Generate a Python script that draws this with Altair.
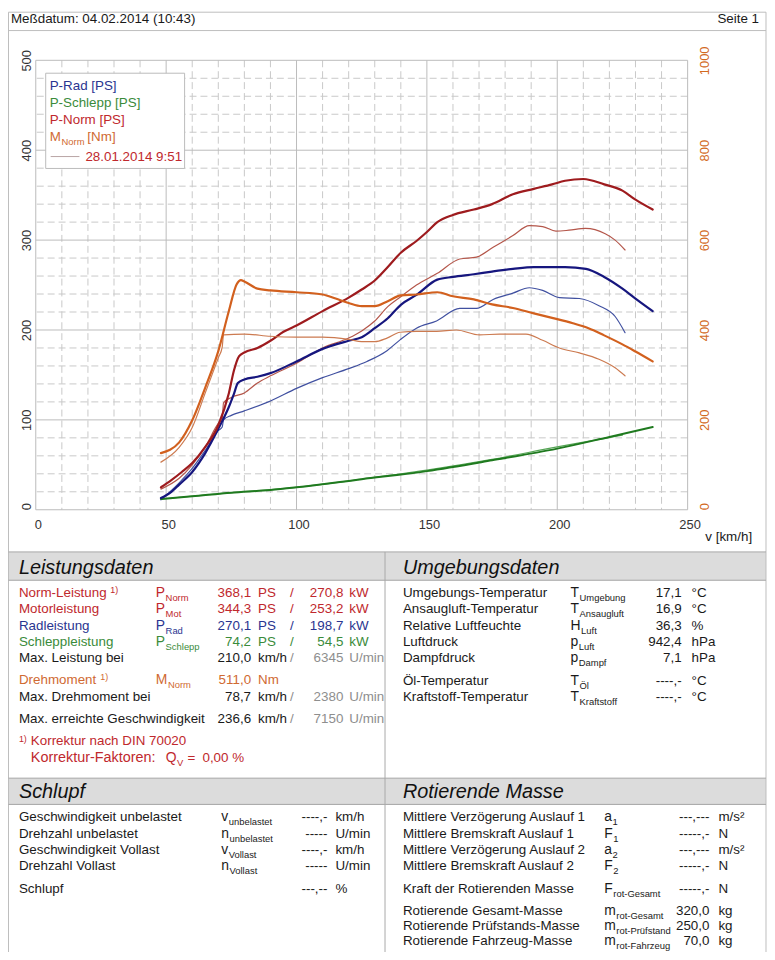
import altair as alt
import pandas as pd

FONT = "Liberation Sans, Arial, Helvetica, sans-serif"

# ---------------- curve data ----------------
# current run (thick lines)
v_pnorm = [48, 52, 56, 60, 65, 70, 74, 76, 78, 80, 85, 90, 95, 100, 110, 120, 125, 130, 135, 140,
           146, 150, 154, 160, 168, 175, 183, 191, 198, 203, 210, 218, 225, 230, 236.6]
p_pnorm = [25, 33, 42, 52, 70, 94, 129, 155, 171, 175, 180, 188, 198, 205, 221, 236, 245, 255, 270, 286,
           299, 309, 320, 328, 334, 340, 351, 357, 362, 366, 368, 362, 355, 345, 334]

v_prad = [48, 52, 55, 60, 65, 70, 74, 76, 77.5, 80, 85, 90, 100, 110, 120, 125, 130, 135, 140, 146,
          154, 160, 168, 175, 183, 191, 198, 203, 211, 218, 225, 230, 236.6]
p_prad = [13, 20, 28, 42, 63, 90, 114, 129, 141, 145, 148, 152, 165, 179, 188, 192, 202, 213, 228, 239,
          256, 259, 262, 265, 268, 270, 270, 270, 268, 259, 246, 235, 221]

v_schlepp = [48, 60, 75, 90, 100, 125, 150, 175, 200, 220, 236.6]
p_schlepp = [12, 15, 19, 22, 25, 34, 43, 55, 68, 81, 92]

v_mnorm = [48, 55, 60, 65, 70, 74, 77, 78.7, 80, 85, 90, 100, 110, 115, 120, 125, 130, 135, 140, 146,
           154, 160, 168, 175, 183, 191, 198, 206, 212, 218, 225, 230, 236.6]
m_mnorm = [126, 150, 199, 272, 353, 441, 501, 511, 508, 492, 488, 484, 479, 470, 460, 453, 453, 464, 477, 479,
           484, 475, 468, 457, 449, 437, 427, 415, 404, 388, 368, 352, 330]

# reference run 28.01.2014 9:51 (thin lines)
v_pnorm_ref = [48, 55, 60, 65, 70, 71.5, 72, 75, 80, 85, 90, 100, 110, 120, 125, 130, 135, 140, 146, 154,
               162.6, 169, 175.4, 183, 189.3, 194.4, 199.5, 204.5, 210.8, 218.4, 222.2, 226]
p_pnorm_ref = [23, 35, 50, 70, 96, 101, 119, 125, 130, 141, 149, 163, 180, 191, 199, 210, 226, 237, 250, 263,
               279, 281, 292, 305, 316, 315, 310, 311, 313, 307, 300, 289]

v_prad_ref = [48, 55, 60, 65, 70, 71.5, 72, 75, 80, 90, 100, 110, 120, 127, 134.7, 139.7, 146, 153.7, 162.6, 169,
              175.4, 183, 189.3, 194.4, 200.8, 208.5, 216, 222.2, 226]
p_prad_ref = [11, 30, 46, 66, 88, 92, 100, 105, 110, 121, 135, 147, 157, 165, 177, 189, 202, 210, 224, 224,
              234, 241, 247, 244, 236, 235, 227, 215, 197]

v_mnorm_ref = [48, 55, 60, 65, 70, 71.5, 72, 80, 90, 100, 110, 120, 125, 130, 134.7, 139.7, 146, 153.7, 161.3, 170.2,
               177.8, 188, 194.4, 200.8, 208.5, 216, 222.2, 226]
m_mnorm_ref = [106, 139, 183, 260, 338, 362, 389, 391, 386, 384, 384, 379, 374, 374, 382, 395, 397, 397, 400, 389,
               391, 391, 377, 360, 349, 335, 316, 298]

v_schlepp_ref = [48, 75, 100, 125, 150, 175, 200, 225]
p_schlepp_ref = [12, 19, 25, 34, 44, 56, 70, 83]

# axis ticks / grid
x_major = [0, 50, 100, 150, 200, 250]
x_minor = [10, 20, 30, 40, 60, 70, 80, 90, 110, 120, 130, 140, 160, 170, 180, 190, 210, 220, 230, 240]
y_major = [0, 100, 200, 300, 400, 500]
y_minor = [20, 40, 60, 80, 120, 140, 160, 180, 220, 240, 260, 280, 320, 340, 360, 380, 420, 440, 460, 480]
m_ticks = [0, 200, 400, 600, 800, 1000]
x_title = "v [km/h]"

# ---------------- text contents ----------------
header_left = "Meßdatum: 04.02.2014 (10:43)"
header_right = "Seite 1"
section_titles = ["Leistungsdaten", "Umgebungsdaten", "Schlupf", "Rotierende Masse"]

legend_items = ["P-Rad [PS]", "P-Schlepp [PS]", "P-Norm [PS]"]
legend_tones = ["blue", "green", "red"]
legend_torque = ("M", "Norm", "[Nm]")
legend_ref = "28.01.2014 9:51"

# label, note, symbol, subscript, value1, unit1, value2, unit2, tone
leistung_rows = [
    ("Norm-Leistung", "1)", "P", "Norm", "368,1", "PS", "270,8", "kW", "red"),
    ("Motorleistung", "", "P", "Mot", "344,3", "PS", "253,2", "kW", "red"),
    ("Radleistung", "", "P", "Rad", "270,1", "PS", "198,7", "kW", "blue"),
    ("Schleppleistung", "", "P", "Schlepp", "74,2", "PS", "54,5", "kW", "green"),
    ("Max. Leistung bei", "", "", "", "210,0", "km/h", "6345", "U/min", "black"),
    ("Drehmoment", "1)", "M", "Norm", "511,0", "Nm", "", "", "orange"),
    ("Max. Drehmoment bei", "", "", "", "78,7", "km/h", "2380", "U/min", "black"),
    ("Max. erreichte Geschwindigkeit", "", "", "", "236,6", "km/h", "7150", "U/min", "black"),
]
footnote_1 = ("1)", "Korrektur nach DIN 70020")
footnote_2 = ("Korrektur-Faktoren:", "Q", "V", "=", "0,00 %")

umgebung_rows = [
    ("Umgebungs-Temperatur", "T", "Umgebung", "17,1", "°C"),
    ("Ansaugluft-Temperatur", "T", "Ansaugluft", "16,9", "°C"),
    ("Relative Luftfeuchte", "H", "Luft", "36,3", "%"),
    ("Luftdruck", "p", "Luft", "942,4", "hPa"),
    ("Dampfdruck", "p", "Dampf", "7,1", "hPa"),
    ("Öl-Temperatur", "T", "Öl", "----,-", "°C"),
    ("Kraftstoff-Temperatur", "T", "Kraftstoff", "----,-", "°C"),
]

schlupf_rows = [
    ("Geschwindigkeit unbelastet", "v", "unbelastet", "----,-", "km/h"),
    ("Drehzahl unbelastet", "n", "unbelastet", "-----", "U/min"),
    ("Geschwindigkeit Vollast", "v", "Vollast", "----,-", "km/h"),
    ("Drehzahl Vollast", "n", "Vollast", "-----", "U/min"),
    ("Schlupf", "", "", "---,--", "%"),
]

masse_rows = [
    ("Mittlere Verzögerung Auslauf 1", "a", "1", "---,---", "m/s²"),
    ("Mittlere Bremskraft Auslauf 1", "F", "1", "-----,-", "N"),
    ("Mittlere Verzögerung Auslauf 2", "a", "2", "---,---", "m/s²"),
    ("Mittlere Bremskraft Auslauf 2", "F", "2", "-----,-", "N"),
    ("Kraft der Rotierenden Masse", "F", "rot-Gesamt", "-----,-", "N"),
    ("Rotierende Gesamt-Masse", "m", "rot-Gesamt", "320,0", "kg"),
    ("Rotierende Prüfstands-Masse", "m", "rot-Prüfstand", "250,0", "kg"),
    ("Rotierende Fahrzeug-Masse", "m", "rot-Fahrzeug", "70,0", "kg"),
]

# ---------------- styles ----------------
C = dict(red="#C0282D", blue="#2A3590", green="#3A8B3A", orange="#D06A32",
         black="#1A1A1A", grey="#8E8E8E")
SYM_W = {"P": .667, "M": .833, "T": .611, "H": .722, "p": .556, "v": .5, "n": .556,
         "a": .556, "F": .611, "m": .833, "Q": .778}

# ---------------- layout (page pixel coords) ----------------
X0, Y0 = 36, 57          # plot origin on the page
W, H = 657, 453          # plot size
PAGE_W, PAGE_H = 773, 960

texts = []


def txt(kind, x, y, s, color, size=13.5):
    texts.append(dict(kind=kind, x=x - X0, y=y - Y0, text=s, color=color, fs=size))


def sym_sub(x, y, sym, sub, color):
    txt("l", x, y, sym, color, 14)
    txt("l", x + SYM_W.get(sym, .6) * 14 + 0.5, y + 5, sub, color, 9.5)


rules = []


def rule(x, y, x2, y2, color="#BDBDBD", sw=1.0):
    rules.append(dict(x=x - X0, y=y - Y0, x2=x2 - X0, y2=y2 - Y0, color=color, sw=sw))


rects = []


def rect(x, y, x2, y2, fill, stroke):
    rects.append(dict(x=x - X0, y=y - Y0, x2=x2 - X0, y2=y2 - Y0, fill=fill, stroke=stroke))


# page frame and header
rule(8.5, 8.5, 772, 8.5)
rule(8.5, 8.5, 8.5, 960)
rule(772, 8.5, 772, 960)
rule(8.5, 27, 772, 27)
txt("l", 11, 15, header_left, C["black"])
txt("r", 765, 15, header_right, C["black"])

# section bars
rect(9, 553, 771.5, 581, "#DCDCDC", "#DCDCDC")
rect(9, 781, 771.5, 807, "#DCDCDC", "#DCDCDC")
for yy in (552.5, 581, 780.5, 807):
    rule(8.5, yy, 772, yy, "#A8A8A8")
rule(388, 552.5, 388, 960, "#A8A8A8")
for title, (tx, ty) in zip(section_titles, [(19, 569), (406, 569), (19, 795), (406, 795)]):
    txt("h", tx, ty, title, "#111111", 20)

# Leistungsdaten
ly = [594, 610.5, 627, 643, 659.5, 682, 698.5, 721]
note_x = {0: 111, 5: 101}
for i, (row, y) in enumerate(zip(leistung_rows, ly)):
    label, note, sym, sub, v1, u1, v2, u2, tone = row
    col = C[tone]
    txt("l", 19, y, label, col)
    if note:
        txt("l", note_x[i], y - 3, note, col, 9)
    if sym:
        sym_sub(157, y, sym, sub, col)
    txt("r", 253, y, v1, col)
    txt("l", 260, y, u1, col)
    if v2:
        side = C["grey"] if tone == "black" else col
        txt("c", 294, y, "/", side)
        txt("r", 346, y, v2, side)
        txt("l", 352, y, u2, side)
txt("l", 19, 741, footnote_1[0], C["red"], 9)
txt("l", 31, 743, footnote_1[1], C["red"])
txt("l", 31, 760, footnote_2[0], C["red"], 14.5)
sym_sub(167, 760, footnote_2[1], footnote_2[2], C["red"])
txt("l", 189, 760, footnote_2[3], C["red"])
txt("l", 204, 760, footnote_2[4], C["red"])

# Umgebungsdaten
uy = [594, 610.5, 627, 643, 659.5, 683, 699]
for (label, sym, sub, val, unit), y in zip(umgebung_rows, uy):
    txt("l", 406, y, label, C["black"])
    sym_sub(575, y, sym, sub, C["black"])
    txt("r", 687, y, val, C["black"])
    txt("l", 697, y, unit, C["black"])

# Schlupf
sy = [820, 836.5, 853, 869, 892]
for (label, sym, sub, val, unit), y in zip(schlupf_rows, sy):
    txt("l", 19, y, label, C["black"])
    if sym:
        sym_sub(223, y, sym, sub, C["black"])
    txt("r", 330, y, val, C["black"])
    txt("l", 338, y, unit, C["black"])

# Rotierende Masse
my = [820, 836.5, 853, 869, 892, 914, 930, 945]
for (label, sym, sub, val, unit), y in zip(masse_rows, my):
    txt("l", 406, y, label, C["black"])
    sym_sub(609, y, sym, sub, C["black"])
    txt("r", 715, y, val, C["black"])
    txt("l", 724, y, unit, C["black"])

# legend box inside the plot
rect(46, 70, 186, 166, "white", "#BBBBBB")
for s, tone, y in zip(legend_items, legend_tones, [83, 100, 117]):
    txt("l", 50, y, s, C[tone])
txt("l", 50, 134, legend_torque[0], C["orange"])
txt("l", 62, 139, legend_torque[1], C["orange"], 9.5)
txt("l", 88, 134, legend_torque[2], C["orange"])
rule(51, 154, 80, 154, "#B8A4A4", 1)
txt("l", 86, 154, legend_ref, C["red"])

# x axis title
txt("r", 758, 537, x_title, C["black"])

text_df = pd.DataFrame(texts)
rule_df = pd.DataFrame(rules)
rect_df = pd.DataFrame(rects)

# ---------------- curve tables ----------------
power_series = [
    ("Schlepp ref", v_schlepp_ref, p_schlepp_ref, "#55A555", 1.2),
    ("Rad ref", v_prad_ref, p_prad_ref, "#4050A0", 1.2),
    ("Norm ref", v_pnorm_ref, p_pnorm_ref, "#B4564A", 1.2),
    ("Schlepp", v_schlepp, p_schlepp, "#1F7A1F", 2.0),
    ("Rad", v_prad, p_prad, "#16167E", 2.2),
    ("Norm", v_pnorm, p_pnorm, "#9E1B1E", 2.2),
]
torque_series = [
    ("M ref", v_mnorm_ref, m_mnorm_ref, "#CC7A50", 1.2),
    ("M", v_mnorm, m_mnorm, "#D2601E", 2.2),
]


def series_df(series):
    rows = []
    for name, vs, ps, col, sw in series:
        for v, p in zip(vs, ps):
            rows.append(dict(series=name, v=v, val=p, color=col, sw=sw))
    return pd.DataFrame(rows)


power_df = series_df(power_series)
torque_df = series_df(torque_series)

xs = alt.Scale(domain=[0, 250], nice=False, zero=False)
ys = alt.Scale(domain=[0, 500], nice=False)
ms = alt.Scale(domain=[0, 1000], nice=False)

grid_minor_x = alt.Chart(pd.DataFrame({"g": x_minor})).mark_rule(
    color="#C8C8C8", strokeWidth=1, strokeDash=[7, 4]).encode(x=alt.X("g:Q", scale=xs, axis=None))
grid_minor_y = alt.Chart(pd.DataFrame({"g": y_minor})).mark_rule(
    color="#C8C8C8", strokeWidth=1, strokeDash=[7, 4]).encode(y=alt.Y("g:Q", scale=ys, axis=None))
grid_major_x = alt.Chart(pd.DataFrame({"g": x_major})).mark_rule(
    color="#BBBBBB", strokeWidth=1).encode(x=alt.X("g:Q", scale=xs, axis=None))
grid_major_y = alt.Chart(pd.DataFrame({"g": y_major})).mark_rule(
    color="#BBBBBB", strokeWidth=1).encode(y=alt.Y("g:Q", scale=ys, axis=None))

axis_common = dict(grid=False, domain=False, ticks=False, labelFontSize=13, labelFont=FONT, title=None)
zero_align = alt.condition("datum.value === 0", alt.value("left"), alt.value("center"))

power = alt.Chart(power_df).mark_line(interpolate="monotone", strokeJoin="round", strokeCap="round").encode(
    x=alt.X("v:Q", scale=xs, axis=alt.Axis(values=x_major, labelColor="#333333", labelPadding=9,
                                            labelFlush=False, labelOffset=2, format="d", **axis_common)),
    y=alt.Y("val:Q", scale=ys, axis=alt.Axis(values=y_major, orient="left", labelColor="#333333",
                                              labelAngle=270, labelAlign=zero_align,
                                              labelBaseline="bottom", labelPadding=2, labelFlush=False,
                                              format="d", **axis_common)),
    detail="series:N",
    color=alt.Color("color:N", scale=None),
    strokeWidth=alt.StrokeWidth("sw:Q", scale=None),
    order="v:Q",
)

torque = alt.Chart(torque_df).mark_line(interpolate="monotone", strokeJoin="round", strokeCap="round").encode(
    x=alt.X("v:Q", scale=xs, axis=None),
    y=alt.Y("val:Q", scale=ms, axis=alt.Axis(values=m_ticks, orient="right", labelColor="#D2691E",
                                              labelAngle=270, labelAlign=zero_align,
                                              labelBaseline="top", labelPadding=11, labelFlush=False,
                                              format="d", **axis_common)),
    detail="series:N",
    color=alt.Color("color:N", scale=None),
    strokeWidth=alt.StrokeWidth("sw:Q", scale=None),
    order="v:Q",
)

page_rects = alt.Chart(rect_df).mark_rect(strokeWidth=1).encode(
    x=alt.X("x:Q", scale=None, axis=None), x2="x2:Q",
    y=alt.Y("y:Q", scale=None, axis=None), y2="y2:Q",
    fill=alt.Fill("fill:N", scale=None), stroke=alt.Stroke("stroke:N", scale=None))

page_rules = alt.Chart(rule_df).mark_rule().encode(
    x=alt.X("x:Q", scale=None, axis=None), x2="x2:Q",
    y=alt.Y("y:Q", scale=None, axis=None), y2="y2:Q",
    color=alt.Color("color:N", scale=None), strokeWidth=alt.StrokeWidth("sw:Q", scale=None))


def text_layer(kind, align, style="normal"):
    return alt.Chart(text_df).transform_filter(alt.datum.kind == kind).mark_text(
        align=align, baseline="middle", font=FONT, fontStyle=style).encode(
        x=alt.X("x:Q", scale=None, axis=None),
        y=alt.Y("y:Q", scale=None, axis=None),
        text="text:N",
        color=alt.Color("color:N", scale=None),
        size=alt.Size("fs:Q", scale=None))


# fixed padding so the plot area sits exactly where it does on the page
pad = {"left": X0 - 8, "top": Y0 - 8, "right": PAGE_W - (X0 + W), "bottom": PAGE_H - 8 - (Y0 + H)}

chart = alt.layer(
    grid_minor_x, grid_minor_y, grid_major_x, grid_major_y,
    page_rects, page_rules,
    power, torque,
    text_layer("l", "left"), text_layer("r", "right"), text_layer("c", "center"),
    text_layer("h", "left", "italic"),
).resolve_scale(x="independent", y="independent").properties(
    width=W, height=H, padding=pad, background="white",
    autosize=alt.AutoSizeParams(type="none"),
).configure_view(stroke=None)

chart.save("out.html", embed_options={"renderer": "svg", "actions": False})
